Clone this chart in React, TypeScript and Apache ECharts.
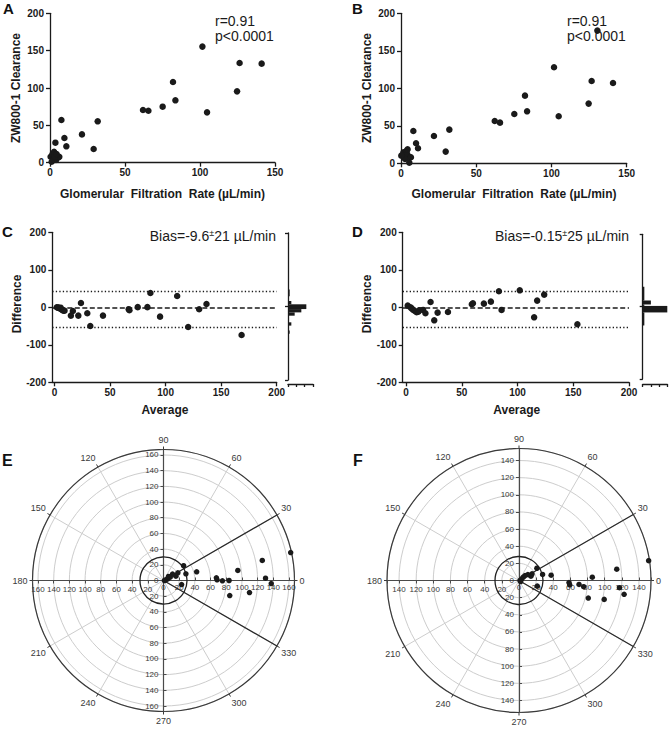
import React, { useEffect, useRef } from 'react';
import * as echarts from 'echarts';

const FONT = '"Liberation Sans", Arial, Helvetica, sans-serif';
const INK = '#1a1a1a';

// ---------- Panel A: GFR vs ZW800-1 clearance ----------
const gfrA = [101.6, 126.4, 141.1, 82, 124.7, 83.6, 62, 65.6, 75.1, 104.7, 31.8, 7.6, 21.3, 9.6, 10.9, 3.6, 29.1, 0.4, 1.6, 2.7, 2.2, 4, 5.6, 6.2, 1.1, 3.3, 4.4];
const clearanceA = [155.4, 133.5, 132.6, 108, 95.5, 83.5, 70.5, 69.6, 75, 67.4, 55.4, 57.1, 37.9, 33, 21.9, 26.8, 18.3, 8, 11.2, 14.7, 4.5, 3.6, 7.1, 8, 1.3, 8, 11.6];

// ---------- Panel B ----------
const gfrB = [130.5, 101.7, 126.7, 140.9, 82.4, 124.7, 83.8, 75.3, 62.3, 65.8, 104.8, 32.1, 8.2, 21.9, 10, 11.3, 29.7, 1.6, 3.8, 1.1, 4.2, 6, 2.7, 5.5, 6.6, 4.4, 0.2];
const clearanceB = [176.9, 128, 109.8, 107.1, 90.2, 79.6, 69.3, 65.8, 56.4, 54.2, 62.7, 44.9, 43.1, 36.4, 26.7, 20, 15.6, 14.7, 16.9, 11.1, 12, 8, 5.8, 0.9, 8, 18.7, 10.2];

// ---------- Panel C: Bland-Altman ----------
const avgC = [23.8, 86.3, 110.4, 136.8, 130.2, 120.3, 168.4, 95, 83.6, 74.9, 66.8, 67.4, 43.6, 32.2, 29.5, 21.4, 16.5, 14.7, 2, 3, 4, 5, 6, 7, 8, 9, 5.5, 3.5];
const diffC = [11.6, 38.2, 30.2, 8.9, -5.3, -52.4, -73.8, -24.9, 0.4, 0.4, -5, -8, -22.2, -49.8, -16, -22.2, -9.8, -22.2, 0, -1, -2, -3, -5, -7, -9, -9, -1, -0.5];

// ---------- Panel D ----------
const avgD = [1.5, 4, 5, 6.5, 8, 9.5, 11, 12, 15.3, 17.4, 22, 25.3, 28.3, 37.6, 59, 60, 69.8, 76.1, 83.3, 85.7, 102, 114.9, 117.6, 123.9, 153.7];
const diffD = [4.4, 0, -3, -7, -10, -13, -12, -8, -7, -16, 14.2, -34.7, -14.2, -12.4, 8, 10.7, 9.8, 15.1, 42.7, -7, 45.3, -26.7, 17.8, 33.8, -45.3];

const biasLine = 0;
const limitsOfAgreement = [42, -53];

// marginal frequency distributions of the differences: bin low, bin high, count
const binLowC = [28, 6, -7, -16, -25, -52, -74];
const binHighC = [46, 15, 6, -7, -16, -43, -65];
const countC = [1, 2, 11, 8, 4, 2, 1];
const binLowD = [17, 6, 2, -16, -52];
const binHighD = [55, 17, 6, 2, -16];
const countD = [1, 5, 1, 15, 1];

// ---------- Panels E, F: polar plots (radius, angle in degrees) ----------
const radiusE = [166, 128.5, 130.1, 137.4, 110.7, 95.6, 83.6, 86.6, 75.1, 67.5, 68.3, 43.7, 29.8, 31.8, 23.6, 20.8, 16.7, 14.1, 9.5, 5.9, 3.1, 1.3, 8.2];
const angleE = [12.4, 11.5, 1.3, 358.4, 352, 7.7, 0, 347.2, 359.7, 2.9, 0.7, 14.7, 16.6, 36.3, 347.5, 28.2, 19.2, 35.2, 26.8, 21, 17, 0, 38.6];
const radiusF = [153, 114.8, 117.5, 123.7, 101.8, 83.4, 85.6, 75.8, 70.2, 59.4, 58.4, 38, 28.4, 25.3, 22.3, 17, 14.8, 12.5, 9.1, 6.3, 3.6, 1.2, 2.3];
const angleF = [8.7, 6.6, 355.9, 352.5, 347.5, 345.8, 2.6, 354.5, 356.2, 355.2, 357.7, 9.4, 14.3, 34.4, 342.8, 27, 19.8, 34, 39.6, 38, 31, 0, 328];

const polarMaxE = 167;
const polarMaxF = 154;
const exclusionRadiusE = 30;
const exclusionRadiusF = 28;
const limitAngles = [30, 330];

const zip = (a: number[], b: number[]) => a.map((v, i) => [v, b[i]]);

const axisLine = { show: true, onZero: false, lineStyle: { color: INK, width: 1.3 } };
const axisTick = { show: true, length: 4, lineStyle: { color: INK, width: 1.3 } };
const tickLabel = { fontFamily: FONT, fontSize: 10, fontWeight: 'bold', color: INK };

function xAx(gridIndex: number, min: number, max: number, interval: number, custom?: number[]) {
  const a: any = {
    type: 'value', gridIndex, min, max,
    axisLine, splitLine: { show: false },
    axisTick: { ...axisTick },
    axisLabel: { ...tickLabel, margin: 5 },
  };
  if (custom) {
    a.axisTick.customValues = custom;
    a.axisLabel.customValues = custom;
  } else {
    a.interval = interval;
  }
  return a;
}
function yAx(gridIndex: number, min: number, max: number, interval: number) {
  return {
    type: 'value', gridIndex, min, max, interval,
    axisLine, splitLine: { show: false },
    axisTick: { ...axisTick },
    axisLabel: { ...tickLabel, margin: 6 },
  };
}

const angleLabel = { fontFamily: FONT, fontSize: 9, color: '#3a3a3a' };
const radiusLabel = { fontFamily: FONT, fontSize: 8, color: '#3a3a3a' };
const gridGray = '#cdcdcd';

function polarAxes(base: number, max: number) {
  const angles = [0, 90, 180, 270];
  const angleAxis = angles.map((s, k) =>
    k === 0
      ? {
          polarIndex: base, type: 'value', min: 0, max: 360, interval: 30,
          startAngle: 0, clockwise: false,
          axisLine: { lineStyle: { color: '#3a3a3a', width: 1.2 } },
          axisTick: { show: true, length: 3, lineStyle: { color: '#3a3a3a' } },
          axisLabel: { ...angleLabel, margin: 5 },
          splitLine: { show: true, lineStyle: { color: gridGray, width: 1 } },
        }
      : {
          polarIndex: base + k, type: 'value', min: 0, max: 360, interval: 30,
          startAngle: s, clockwise: false, show: false,
          axisLine: { show: false }, axisTick: { show: false }, axisLabel: { show: false },
          splitLine: { show: false },
        }
  );
  const fmt = (hideZero: boolean) => (v: number) =>
    v % 20 === 0 && !(hideZero && v === 0) ? String(v) : '';
  const radiusAxis = angles.map((s, k) => {
    const a: any = {
      polarIndex: base + k, type: 'value', min: 0, max, interval: 20,
      axisLine: { show: true, lineStyle: { color: '#4a4a4a', width: 1.2 } },
      axisTick: { show: true, length: 3, lineStyle: { color: '#4a4a4a' } },
      axisLabel: { ...radiusLabel, margin: 5, formatter: fmt(k >= 2) },
      splitLine: { show: k === 0, lineStyle: { color: gridGray, width: 1 } },
      splitArea: { show: false },
    };
    if (k === 0) {
      a.axisLabel.margin = -3;
      a.axisLabel.verticalAlign = 'top';
      a.axisTick.inside = true;
    }
    if (k === 3) {
      a.axisLabel.margin = -5;
      a.axisLabel.align = 'right';
      a.axisTick.inside = true;
    }
    return a;
  });
  return { angleAxis, radiusAxis };
}

const circleRender = (params: any, api: any) => {
  const p = api.coord([api.value(0), api.value(1)]);
  const cs = params.coordSys;
  const r = Math.hypot(p[0] - cs.cx, p[1] - cs.cy);
  return {
    type: 'circle',
    shape: { cx: cs.cx, cy: cs.cy, r },
    style: { fill: 'none', stroke: '#222', lineWidth: 1.3 },
  };
};

const histRender = (params: any, api: any) => {
  const a = api.coord([0, api.value(1)]);
  const b = api.coord([api.value(2), api.value(0)]);
  return {
    type: 'rect',
    shape: { x: a[0], y: a[1], width: b[0] - a[0], height: b[1] - a[1] },
    style: { fill: INK },
  };
};

function buildOption() {
  const E = polarAxes(0, polarMaxE);
  const F = polarAxes(4, polarMaxF);

  const scatter = (xi: number, data: number[][]) => ({
    type: 'scatter', xAxisIndex: xi, yAxisIndex: xi, data,
    symbolSize: 6.5, itemStyle: { color: INK, opacity: 1 }, z: 5,
  });

  const ml = {
    silent: true, symbol: 'none', label: { show: false },
    data: [
      { yAxis: biasLine, lineStyle: { type: [5, 2.5], width: 1.6, color: INK } },
      { yAxis: limitsOfAgreement[0], lineStyle: { type: [1.3, 2.2], width: 1.3, color: INK } },
      { yAxis: limitsOfAgreement[1], lineStyle: { type: [1.3, 2.2], width: 1.3, color: INK } },
    ],
  };

  const histData = (lo: number[], hi: number[], c: number[]) => lo.map((v, i) => [v, hi[i], c[i]]);

  const letter = (t: string, x: number, y: number, size = 15) => ({
    type: 'text', x, y,
    style: { text: t, fontFamily: FONT, fontSize: size, fontWeight: 'bold', fill: '#111', verticalAlign: 'top' },
  });
  const title = (t: string, x: number, y: number, rot = 0) => ({
    type: 'text', x, y, rotation: rot,
    style: { text: t, fontFamily: FONT, fontSize: 12, fontWeight: 'bold', fill: INK, align: 'center', verticalAlign: 'middle' },
  });
  const stat = (x: number) => ({
    type: 'text', x, y: 13,
    style: { text: 'r=0.91\np<0.0001', fontFamily: FONT, fontSize: 14, lineHeight: 15, fill: INK, verticalAlign: 'top' },
  });
  const bias = (x: number, value: string, sd: string) => ({
    type: 'text', x, y: 228,
    style: {
      text: `{b|Bias=${value}}{s|±}{b|${sd} µL/min}`,
      align: 'right', verticalAlign: 'top',
      rich: {
        b: { fontFamily: FONT, fontSize: 14, lineHeight: 16, fill: INK },
        s: { fontFamily: FONT, fontSize: 9, lineHeight: 16, fill: INK, verticalAlign: 'top' },
      },
    },
  });

  const polarE = { center: [163.5, 580.5], radius: 131 };
  const polarF = { center: [519, 580.5], radius: 132 };

  return {
    animation: false,
    backgroundColor: '#ffffff',
    grid: [
      { left: 50, top: 13.3, width: 225, height: 149.4 },
      { left: 401, top: 13.3, width: 225.7, height: 150 },
      { left: 52.3, top: 232.3, width: 224.4, height: 150 },
      { left: 402.7, top: 232.3, width: 226.3, height: 150 },
      { left: 288, top: 233, width: 25, height: 147 },
      { left: 642.7, top: 234.3, width: 24.6, height: 144.7 },
    ],
    xAxis: [
      xAx(0, 0, 150, 50),
      xAx(1, 0, 150, 50),
      xAx(2, -2, 200, 50, [0, 50, 100, 150, 200]),
      xAx(3, -3, 200, 50, [0, 50, 100, 150, 200]),
      { ...xAx(4, 0, 15, 5), offset: 4, axisLabel: { show: false }, axisTick: { ...axisTick, length: 3 } },
      { ...xAx(5, 0, 15, 5), offset: 5, axisLabel: { show: false }, axisTick: { ...axisTick, length: 3 } },
    ],
    yAxis: [
      yAx(0, 0, 200, 50),
      yAx(1, 0, 200, 50),
      yAx(2, -200, 200, 100),
      yAx(3, -200, 200, 100),
      { ...yAx(4, -200, 200, 200), axisLabel: { show: false }, axisTick: { ...axisTick, length: 3 } },
      { ...yAx(5, -200, 200, 200), axisLabel: { show: false }, axisTick: { ...axisTick, length: 3 } },
    ],
    polar: [polarE, polarE, polarE, polarE, polarF, polarF, polarF, polarF],
    angleAxis: [...E.angleAxis, ...F.angleAxis],
    radiusAxis: [...E.radiusAxis, ...F.radiusAxis],
    series: [
      scatter(0, zip(gfrA, clearanceA)),
      scatter(1, zip(gfrB, clearanceB)),
      { ...scatter(2, zip(avgC, diffC)), markLine: ml },
      { ...scatter(3, zip(avgD, diffD)), markLine: ml },
      { type: 'custom', xAxisIndex: 4, yAxisIndex: 4, data: histData(binLowC, binHighC, countC), renderItem: histRender, encode: { x: 2, y: 0 }, silent: true },
      { type: 'custom', xAxisIndex: 5, yAxisIndex: 5, data: histData(binLowD, binHighD, countD), renderItem: histRender, encode: { x: 2, y: 0 }, silent: true },
      // polar E
      {
        type: 'line', coordinateSystem: 'polar', polarIndex: 0, symbol: 'none', silent: true,
        data: [[polarMaxE, limitAngles[0]], [0, 0], [polarMaxE, limitAngles[1]]],
        lineStyle: { color: '#2a2a2a', width: 1.3 }, z: 3,
      },
      { type: 'custom', coordinateSystem: 'polar', polarIndex: 0, data: [[exclusionRadiusE, 0]], renderItem: circleRender, silent: true, z: 3 },
      { type: 'scatter', coordinateSystem: 'polar', polarIndex: 0, data: zip(radiusE, angleE), symbolSize: 5.5, itemStyle: { color: INK, opacity: 1 }, z: 5 },
      // polar F
      {
        type: 'line', coordinateSystem: 'polar', polarIndex: 4, symbol: 'none', silent: true,
        data: [[polarMaxF, limitAngles[0]], [0, 0], [polarMaxF, limitAngles[1]]],
        lineStyle: { color: '#2a2a2a', width: 1.3 }, z: 3,
      },
      { type: 'custom', coordinateSystem: 'polar', polarIndex: 4, data: [[exclusionRadiusF, 0]], renderItem: circleRender, silent: true, z: 3 },
      { type: 'scatter', coordinateSystem: 'polar', polarIndex: 4, data: zip(radiusF, angleF), symbolSize: 5.5, itemStyle: { color: INK, opacity: 1 }, z: 5 },
    ],
    graphic: [
      letter('A', 3, 1),
      letter('B', 352, 1),
      letter('C', 2, 224),
      letter('D', 352, 224),
      letter('E', 2, 452, 16),
      letter('F', 353, 452, 16),
      stat(215),
      stat(567),
      title('Glomerular  Filtration  Rate (µL/min)', 162.5, 193.5),
      title('Glomerular  Filtration  Rate (µL/min)', 514, 193.5),
      title('ZW800-1 Clearance', 15.5, 88, Math.PI / 2),
      title('ZW800-1 Clearance', 367.2, 88, Math.PI / 2),
      title('Difference', 16.7, 304, Math.PI / 2),
      title('Difference', 367.3, 304, Math.PI / 2),
      title('Average', 165, 410),
      title('Average', 516.7, 410),
      bias(276, '-9.6', '21'),
      bias(629, '-0.15', '25'),
    ],
  };
}

export default function App() {
  const ref = useRef<HTMLDivElement>(null);
  useEffect(() => {
    if (!ref.current) return;
    const chart = echarts.init(ref.current, undefined, { renderer: 'svg' });
    chart.setOption(buildOption() as any);
    return () => chart.dispose();
  }, []);
  return (
    <div
      ref={ref}
      style={{ position: 'absolute', left: 0, top: 0, width: 669, height: 729, background: '#fff' }}
    />
  );
}
